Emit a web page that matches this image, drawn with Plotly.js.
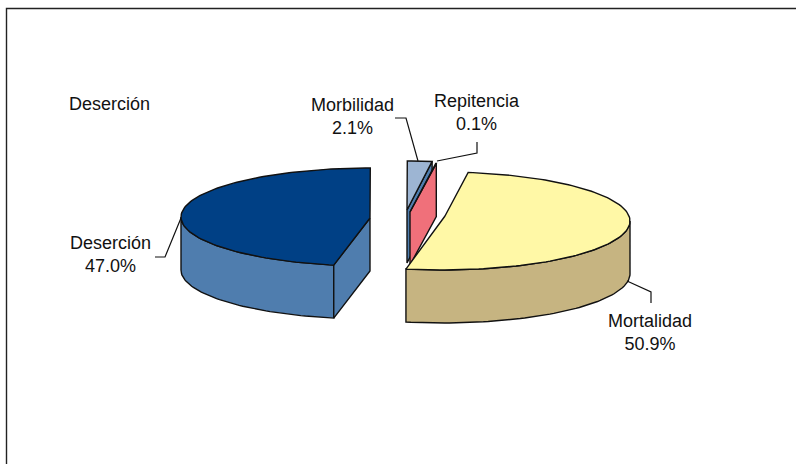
<!DOCTYPE html>
<html>
<head>
<meta charset="utf-8">
<script src="https://cdn.plot.ly/plotly-3.0.1.min.js"></script>
<style>html,body{margin:0;padding:0;background:#fff}#chart{width:796px;height:464px}</style>
</head>
<body>
<div id="chart"></div>
<script>
// Causes of school-system loss, drawn as an exploded 3D pie
const categories = ['Mortalidad', 'Deserción', 'Morbilidad', 'Repitencia'];
const shares = [50.9, 47.0, 2.1, 0.1];
const topColors = ['#FFF8A6', '#004085', '#9DB5D3', '#C00000'];
const sideColors = ['#C6B481', '#4F7DAE', '#4F7DAE', '#F0707A'];
const chartTitle = 'Deserción';

// Projection of each exploded slice: rim ellipse centre and radii, plus the apex
const sliceGeometry = [
  {cx: 442, cy: 221, a: 188, b: 49, ax: 445, ay: 216},
  {cx: 370, cy: 217, a: 189, b: 49, ax: 370, ay: 218},
  {cx: 407, cy: 210, a: 189, b: 49, ax: 407, ay: 210},
  {cx: 410, cy: 212, a: 189, b: 49, ax: 410, ay: 212}
];
const startAngle = 8;    // degrees clockwise from the back of the pie
const depth = 53;        // extruded height on the page

// Label placement and leader polylines
const labelPlacement = [
  {x: 650, y: 332, line: [[627, 281], [651, 292], [651, 303]]},
  {x: 110, y: 254, line: [[155, 257], [165, 257], [181, 218]]},
  {x: 352, y: 116, line: [[395, 118], [406, 118], [418, 161]]},
  {x: 477, y: 112, line: [[477, 142], [477, 153], [437, 161]]}
];
const EDGE = '#111111';

const total = shares.reduce((s, v) => s + v, 0);
let cursor = startAngle;
const spans = shares.map(v => {
  const from = cursor;
  cursor += v / total * 360;
  return [from, cursor];
});

function rimPoint(g, deg, drop) {
  const t = deg * Math.PI / 180;
  return [g.cx + g.a * Math.sin(t), g.cy - g.b * Math.cos(t) + (drop || 0)];
}
function arc(g, from, to, drop) {
  const n = Math.max(2, Math.ceil(Math.abs(to - from) / 1.5));
  const out = [];
  for (let i = 0; i <= n; i++) out.push(rimPoint(g, from + (to - from) * i / n, drop));
  return out;
}
function poly(points, fill, name) {
  const closed = points.concat([points[0]]);
  return {
    type: 'scatter', mode: 'lines', fill: 'toself', fillcolor: fill, name: name,
    x: closed.map(p => p[0]), y: closed.map(p => p[1]),
    line: {color: EDGE, width: 1.4}, hoverinfo: 'name', showlegend: false
  };
}
// Radial cut face at a given angle, extruded downward
function cutFace(g, deg, fill, name) {
  const rim = rimPoint(g, deg);
  return poly([[g.ax, g.ay], rim, [rim[0], rim[1] + depth], [g.ax, g.ay + depth]], fill, name);
}
// Outer wall for the part of the rim facing the viewer
function wall(g, from, to, fill, name) {
  const lo = Math.max(from, 90), hi = Math.min(to, 270);
  const top = arc(g, lo, hi), bottom = arc(g, hi, lo, depth);
  return poly(top.concat(bottom), fill, name);
}
function wedge(g, from, to, fill, name) {
  return poly([[g.ax, g.ay]].concat(arc(g, from, to)), fill, name);
}

const traces = [];
// Back slices first so nearer faces paint over them
[2, 3].forEach(i => {
  const g = sliceGeometry[i], [from, to] = spans[i];
  traces.push(cutFace(g, to, sideColors[i], categories[i]));
  traces.push(wedge(g, from, to, topColors[i], categories[i]));
});
{
  const g = sliceGeometry[1], [from, to] = spans[1];
  traces.push(wall(g, from, to, sideColors[1], categories[1]));
  traces.push(cutFace(g, from, sideColors[1], categories[1]));
  traces.push(wedge(g, from, to, topColors[1], categories[1]));
}
{
  const g = sliceGeometry[0], [from, to] = spans[0];
  traces.push(wall(g, from, to, sideColors[0], categories[0]));
  traces.push(wedge(g, from, to, topColors[0], categories[0]));
}
// Leader lines from each slice to its label
labelPlacement.forEach(p => traces.push({
  type: 'scatter', mode: 'lines', hoverinfo: 'skip', showlegend: false,
  x: p.line.map(q => q[0]), y: p.line.map(q => q[1]),
  line: {color: EDGE, width: 1.2}
}));

const font = {family: '"Liberation Sans", Arial, sans-serif', size: 18, color: '#111111'};
const annotations = categories.map((c, i) => ({
  x: labelPlacement[i].x, y: labelPlacement[i].y, xref: 'x', yref: 'y',
  text: c + '<br>' + shares[i].toFixed(1) + '%',
  showarrow: false, align: 'center', font: font
}));

const hiddenAxis = {visible: false, fixedrange: true};
const layout = {
  width: 796, height: 464, margin: {l: 0, r: 0, t: 0, b: 0},
  paper_bgcolor: '#ffffff', plot_bgcolor: '#ffffff', showlegend: false,
  title: {text: chartTitle, font: font, x: 69 / 796, xanchor: 'left', y: 1 - 104 / 464, yanchor: 'middle'},
  xaxis: Object.assign({range: [0, 796]}, hiddenAxis),
  yaxis: Object.assign({range: [464, 0]}, hiddenAxis),
  annotations: annotations,
  // Frame runs off the right and bottom of the page
  shapes: [{type: 'rect', xref: 'x', yref: 'y', x0: 6.5, y0: 8.5, x1: 810, y1: 480,
            line: {color: '#222222', width: 1.4}, fillcolor: 'rgba(0,0,0,0)', layer: 'below'}]
};
Plotly.newPlot('chart', traces, layout, {displayModeBar: false, staticPlot: true});
</script>
</body>
</html>
